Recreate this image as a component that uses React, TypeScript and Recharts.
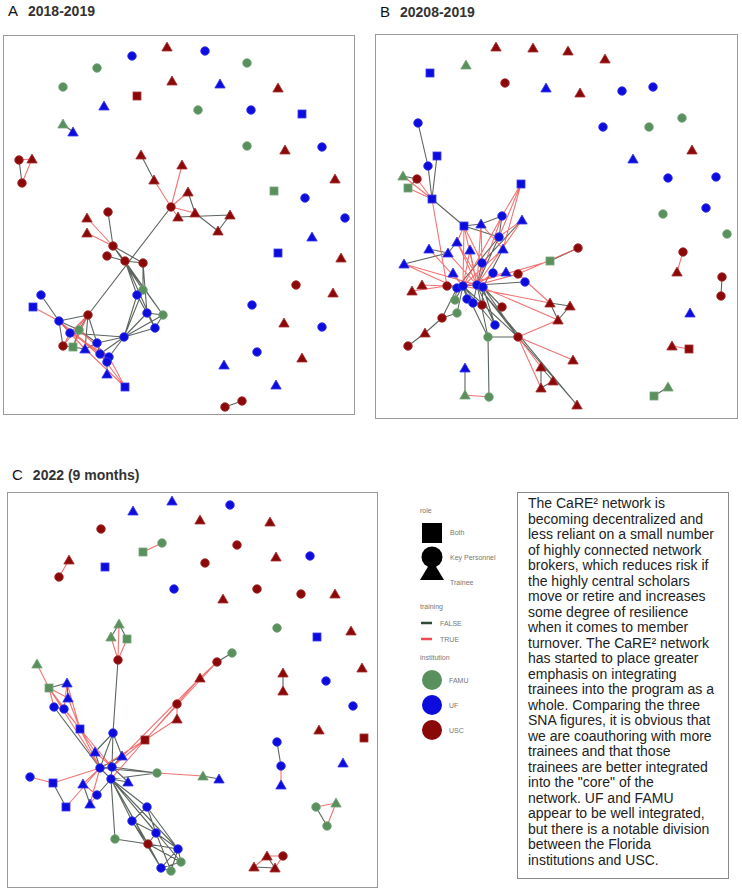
import React from 'react';
import { ComposedChart, Line, Scatter, XAxis, YAxis } from 'recharts';

// node: [layout x, layout y, role, institution]
// role: B = Both, K = Key Personnel, T = Trainee ; institution: F = FAMU, U = UF, S = USC
type Node = [number, number, string, string];
// edge: [from, to, training (1 = TRUE, 0 = FALSE)]
type Edge = [number, number, number];

const nodesA: Node[] = [
  [167, 47, 'T', 'S'], [132, 56, 'K', 'U'], [205, 51, 'K', 'U'], [97, 68, 'K', 'F'], [247, 63, 'K', 'F'],
  [63, 87, 'K', 'F'], [172, 81, 'T', 'S'], [220, 84, 'T', 'U'], [278, 88, 'T', 'S'], [137, 96, 'B', 'S'],
  [104, 106, 'T', 'U'], [198, 110, 'K', 'F'], [251, 110, 'K', 'U'], [302, 114, 'B', 'U'], [63, 124, 'T', 'F'],
  [73, 132, 'T', 'U'], [247, 146, 'K', 'F'], [285, 150, 'T', 'S'], [322, 147, 'K', 'U'], [19, 160, 'K', 'S'],
  [32, 159, 'T', 'S'], [22, 183, 'K', 'S'], [335, 179, 'T', 'S'], [274, 191, 'B', 'F'], [305, 198, 'K', 'U'],
  [345, 218, 'K', 'U'], [312, 237, 'T', 'U'], [278, 253, 'B', 'U'], [341, 258, 'T', 'S'], [296, 285, 'K', 'S'],
  [333, 293, 'T', 'S'], [252, 305, 'K', 'U'], [284, 323, 'T', 'S'], [322, 327, 'K', 'U'], [257, 352, 'K', 'U'],
  [302, 358, 'T', 'S'], [224, 365, 'T', 'U'], [276, 385, 'T', 'U'], [225, 407, 'K', 'S'], [242, 401, 'K', 'S'],
  [171, 207, 'K', 'S'], [141, 155, 'T', 'S'], [154, 180, 'T', 'S'], [182, 165, 'T', 'S'], [188, 192, 'T', 'S'],
  [178, 217, 'T', 'S'], [195, 213, 'T', 'S'], [230, 215, 'T', 'S'], [218, 231, 'T', 'S'],
  [108, 212, 'K', 'S'], [87, 218, 'T', 'S'], [87, 233, 'T', 'S'], [113, 246, 'K', 'S'], [107, 256, 'K', 'S'],
  [125, 261, 'K', 'S'], [143, 263, 'K', 'S'], [143, 290, 'K', 'F'], [137, 295, 'K', 'U'], [147, 313, 'K', 'U'],
  [163, 315, 'K', 'F'], [155, 328, 'K', 'U'], [124, 337, 'K', 'U'], [88, 315, 'K', 'S'], [41, 295, 'K', 'U'],
  [33, 307, 'B', 'U'], [59, 321, 'K', 'U'], [70, 333, 'K', 'U'], [79, 330, 'K', 'F'], [63, 346, 'K', 'S'],
  [73, 347, 'B', 'F'], [85, 349, 'T', 'U'], [97, 343, 'K', 'U'], [100, 354, 'K', 'U'], [109, 357, 'K', 'U'],
  [107, 362, 'K', 'U'], [107, 374, 'T', 'U'], [125, 387, 'B', 'U'],
];

const edgesA: Edge[] = [
  [14, 15, 0], [19, 21, 0], [19, 20, 1], [20, 21, 1], [38, 39, 0],
  [41, 42, 0], [42, 40, 1], [43, 40, 1], [44, 40, 1], [44, 46, 0], [40, 45, 1], [40, 46, 1], [45, 47, 0],
  [46, 48, 0], [47, 48, 0], [40, 62, 0],
  [49, 52, 0], [50, 52, 1], [51, 52, 1], [52, 54, 0], [53, 54, 0], [52, 55, 0], [54, 55, 0], [52, 56, 0],
  [54, 57, 0], [54, 60, 0], [55, 56, 0], [55, 58, 0], [52, 59, 0], [54, 59, 0], [56, 57, 0], [57, 58, 0],
  [58, 59, 0], [59, 60, 0], [57, 60, 0], [58, 60, 0], [61, 57, 0], [61, 58, 0], [61, 59, 0], [61, 56, 0],
  [61, 60, 0], [61, 71, 0], [61, 66, 0], [61, 73, 0], [61, 72, 0],
  [62, 65, 0], [62, 67, 0], [62, 68, 1], [62, 69, 1], [62, 71, 0], [62, 70, 0], [62, 66, 1],
  [63, 65, 0], [64, 65, 1], [65, 66, 0], [65, 67, 0], [65, 68, 0], [65, 70, 1], [65, 72, 1], [66, 67, 0],
  [66, 68, 1], [66, 70, 1], [67, 69, 0], [67, 71, 0], [68, 69, 0], [69, 70, 0], [70, 71, 0], [71, 72, 0],
  [72, 73, 0], [73, 74, 0], [72, 74, 0], [71, 74, 1], [74, 75, 0], [72, 76, 1], [73, 76, 1], [70, 76, 1],
  [66, 73, 1], [67, 73, 1], [65, 74, 1],
];

const nodesB: Node[] = [
  [496, 47, 'T', 'S'], [533, 48, 'T', 'S'], [568, 51, 'T', 'S'], [605, 59, 'T', 'S'], [466, 65, 'T', 'F'],
  [430, 73, 'B', 'U'], [505, 83, 'K', 'S'], [546, 88, 'T', 'U'], [580, 93, 'T', 'S'], [622, 91, 'K', 'U'],
  [653, 87, 'K', 'U'], [682, 118, 'K', 'F'], [649, 127, 'K', 'F'], [603, 127, 'K', 'U'], [692, 150, 'T', 'S'],
  [633, 159, 'T', 'U'], [668, 178, 'K', 'U'], [716, 177, 'K', 'U'], [663, 214, 'K', 'F'], [706, 208, 'K', 'U'],
  [727, 234, 'K', 'F'], [683, 252, 'K', 'S'], [677, 272, 'T', 'S'], [722, 277, 'K', 'S'], [721, 296, 'K', 'S'],
  [690, 313, 'T', 'U'], [672, 346, 'T', 'S'], [689, 349, 'B', 'S'], [654, 396, 'B', 'F'], [668, 387, 'T', 'F'],
  [418, 123, 'K', 'U'], [437, 156, 'B', 'U'], [428, 166, 'K', 'U'], [403, 176, 'T', 'F'], [417, 179, 'K', 'S'],
  [408, 188, 'B', 'F'], [432, 199, 'B', 'U'], [521, 184, 'B', 'U'], [464, 226, 'B', 'U'], [481, 224, 'T', 'U'],
  [502, 216, 'K', 'U'], [522, 220, 'T', 'U'], [457, 242, 'T', 'U'], [499, 237, 'K', 'U'], [429, 249, 'T', 'U'],
  [448, 253, 'T', 'U'], [470, 250, 'T', 'U'], [503, 249, 'T', 'U'], [404, 264, 'T', 'U'], [482, 263, 'K', 'U'],
  [453, 273, 'T', 'U'], [493, 273, 'K', 'U'], [506, 272, 'T', 'U'], [518, 274, 'K', 'S'], [525, 282, 'K', 'U'],
  [550, 261, 'B', 'F'], [578, 248, 'K', 'S'], [412, 291, 'T', 'S'], [422, 285, 'T', 'S'], [447, 286, 'K', 'S'],
  [457, 288, 'K', 'U'], [463, 286, 'K', 'U'], [477, 285, 'K', 'U'], [483, 287, 'K', 'U'], [455, 300, 'K', 'F'],
  [467, 299, 'K', 'U'], [473, 303, 'K', 'U'], [482, 305, 'K', 'S'], [502, 307, 'K', 'S'], [457, 313, 'K', 'F'],
  [442, 318, 'K', 'S'], [425, 333, 'T', 'S'], [408, 346, 'K', 'S'], [495, 325, 'K', 'U'], [488, 337, 'K', 'F'],
  [518, 337, 'K', 'S'], [550, 303, 'T', 'S'], [570, 306, 'T', 'S'], [558, 320, 'T', 'S'], [573, 360, 'T', 'S'],
  [541, 367, 'T', 'S'], [553, 381, 'T', 'S'], [541, 388, 'T', 'S'], [577, 405, 'T', 'S'], [465, 368, 'T', 'U'],
  [465, 395, 'T', 'F'], [489, 397, 'K', 'F'],
];

const edgesB: Edge[] = [
  [21, 22, 1], [23, 24, 0], [26, 27, 1], [28, 29, 0],
  [30, 32, 0], [31, 36, 0], [32, 36, 0], [33, 36, 1], [34, 36, 1], [35, 36, 1], [33, 34, 0], [35, 34, 0],
  [36, 38, 0], [36, 59, 1], [37, 43, 1], [37, 40, 1], [37, 47, 1],
  [38, 39, 0], [38, 49, 1], [38, 62, 1], [38, 61, 1], [38, 42, 1], [38, 43, 0], [39, 40, 0], [39, 62, 1],
  [39, 47, 1], [39, 49, 1], [40, 43, 0], [40, 61, 1], [41, 43, 1], [41, 62, 1], [41, 49, 0], [40, 62, 1],
  [42, 45, 0], [42, 62, 1], [42, 63, 1], [43, 60, 0], [43, 62, 0], [44, 45, 0], [44, 61, 1], [45, 62, 1],
  [46, 61, 1], [46, 62, 1], [47, 61, 1], [47, 63, 0], [48, 45, 0], [48, 60, 1], [48, 62, 1], [49, 62, 0],
  [50, 61, 1], [51, 62, 1], [52, 61, 1], [53, 62, 1], [53, 56, 1], [54, 62, 0], [55, 56, 0], [55, 61, 1],
  [57, 59, 1], [58, 59, 1], [59, 60, 0], [60, 61, 0], [61, 62, 0], [62, 63, 0], [59, 62, 1], [60, 64, 0],
  [61, 64, 0], [61, 65, 0], [62, 66, 0], [63, 67, 0], [63, 68, 0], [61, 69, 0], [60, 70, 0], [69, 70, 0],
  [70, 71, 0], [71, 72, 0], [61, 73, 0], [62, 73, 0], [63, 73, 0], [61, 74, 0], [62, 74, 0], [74, 75, 0],
  [61, 75, 0], [62, 75, 0], [63, 75, 0], [61, 76, 1], [53, 76, 1], [76, 77, 0], [77, 78, 0], [76, 78, 0],
  [62, 78, 1], [75, 78, 1], [75, 79, 1], [75, 80, 1], [75, 82, 1], [80, 81, 0], [80, 82, 0], [81, 82, 0],
  [75, 83, 0], [62, 83, 0], [74, 86, 0], [86, 85, 1], [84, 85, 0],
];

const nodesC: Node[] = [
  [172, 501, 'T', 'U'], [133, 511, 'T', 'U'], [230, 505, 'K', 'U'], [200, 520, 'T', 'S'], [270, 522, 'T', 'S'],
  [101, 529, 'K', 'S'], [143, 552, 'B', 'F'], [162, 543, 'K', 'F'], [237, 545, 'K', 'S'], [69, 560, 'T', 'S'],
  [59, 577, 'K', 'S'], [105, 567, 'B', 'U'], [205, 563, 'K', 'S'], [276, 557, 'T', 'S'], [310, 556, 'K', 'U'],
  [174, 589, 'K', 'U'], [223, 599, 'T', 'S'], [257, 589, 'K', 'S'], [301, 594, 'K', 'S'], [335, 594, 'T', 'S'],
  [277, 628, 'K', 'F'], [317, 637, 'B', 'U'], [351, 631, 'T', 'S'], [362, 668, 'T', 'S'], [283, 673, 'T', 'S'],
  [283, 691, 'T', 'S'], [326, 681, 'K', 'U'], [353, 706, 'K', 'U'], [319, 730, 'T', 'S'], [364, 738, 'B', 'S'],
  [277, 742, 'K', 'U'], [281, 766, 'K', 'U'], [281, 785, 'T', 'U'], [343, 763, 'T', 'U'], [316, 807, 'K', 'F'],
  [336, 803, 'T', 'F'], [327, 826, 'K', 'F'], [254, 867, 'T', 'S'], [267, 856, 'T', 'S'], [275, 868, 'T', 'S'],
  [283, 856, 'K', 'S'],
  [119, 624, 'T', 'F'], [111, 637, 'T', 'F'], [127, 639, 'B', 'F'], [118, 660, 'K', 'S'], [232, 653, 'K', 'F'],
  [217, 662, 'K', 'S'], [200, 678, 'T', 'S'], [177, 704, 'K', 'S'], [177, 719, 'T', 'S'], [145, 740, 'B', 'S'],
  [37, 664, 'T', 'F'], [49, 688, 'B', 'F'], [67, 683, 'T', 'U'], [68, 698, 'T', 'U'], [54, 707, 'K', 'U'],
  [64, 709, 'K', 'U'], [80, 729, 'B', 'U'], [113, 733, 'K', 'U'], [95, 752, 'T', 'U'], [122, 756, 'T', 'U'],
  [100, 768, 'K', 'U'], [112, 767, 'K', 'U'], [111, 779, 'K', 'U'], [128, 782, 'T', 'U'], [30, 777, 'K', 'U'],
  [53, 783, 'B', 'U'], [83, 784, 'T', 'U'], [97, 795, 'K', 'U'], [90, 804, 'T', 'U'], [66, 807, 'B', 'U'],
  [157, 773, 'K', 'F'], [203, 776, 'T', 'F'], [219, 779, 'T', 'U'], [147, 807, 'K', 'U'], [132, 821, 'K', 'U'],
  [156, 833, 'K', 'U'], [115, 839, 'K', 'F'], [148, 844, 'K', 'S'], [178, 849, 'K', 'U'], [181, 862, 'K', 'F'],
  [161, 868, 'K', 'U'], [171, 871, 'K', 'F'],
];

const edgesC: Edge[] = [
  [6, 7, 1], [9, 10, 1], [24, 25, 0], [30, 31, 0], [31, 32, 1], [34, 35, 1], [35, 36, 1], [34, 36, 0],
  [37, 38, 1], [37, 39, 0], [38, 39, 0], [38, 40, 1], [39, 40, 1],
  [41, 44, 1], [42, 44, 1], [43, 44, 1], [41, 42, 0], [41, 43, 0], [44, 58, 0],
  [45, 46, 0], [46, 47, 1], [47, 48, 1], [48, 49, 1], [46, 50, 1], [47, 50, 1], [48, 50, 1], [49, 50, 1],
  [50, 61, 1], [50, 62, 1], [50, 63, 1], [47, 62, 1],
  [51, 52, 1], [52, 53, 0], [52, 54, 1], [52, 55, 1], [52, 56, 1], [53, 54, 0], [53, 56, 1], [55, 56, 0],
  [52, 57, 1], [53, 57, 1], [54, 57, 1], [56, 57, 1], [57, 59, 1], [57, 61, 1], [57, 62, 1], [52, 61, 1],
  [55, 61, 0],
  [58, 62, 0], [58, 61, 0], [58, 59, 0], [58, 60, 0], [59, 61, 0], [60, 62, 0], [61, 62, 0], [61, 63, 0],
  [62, 63, 0], [62, 64, 0], [63, 64, 0], [59, 62, 1], [60, 61, 0],
  [65, 66, 1], [66, 61, 1], [66, 70, 0], [70, 61, 1], [67, 61, 1], [67, 68, 1], [69, 68, 1], [69, 61, 1],
  [68, 63, 0], [67, 69, 0],
  [63, 71, 0], [61, 71, 0], [62, 71, 0], [71, 72, 1], [72, 73, 0],
  [63, 74, 0], [63, 75, 0], [63, 76, 0], [63, 78, 0], [63, 79, 0], [63, 81, 0], [63, 80, 0], [63, 77, 0],
  [77, 78, 0], [74, 75, 0], [74, 76, 0], [75, 76, 0], [76, 78, 0], [75, 78, 0], [76, 79, 0], [78, 79, 0],
  [78, 80, 0], [78, 81, 0], [79, 80, 0], [79, 81, 0], [80, 81, 0], [81, 82, 0], [79, 82, 0], [76, 82, 0],
  [74, 79, 0], [75, 81, 0],
];

const noteLines = [
  'The CaRE² network is',
  'becoming decentralized and',
  'less reliant on a small number',
  'of highly connected network',
  'brokers, which reduces risk if',
  'the highly central scholars',
  'move or retire and increases',
  'some degree of resilience',
  'when it comes to member',
  'turnover. The CaRE² network',
  'has started to place greater',
  'emphasis on integrating',
  'trainees into the program as a',
  'whole. Comparing the three',
  'SNA figures, it is obvious that',
  'we are coauthoring with more',
  'trainees and that those',
  'trainees are better integrated',
  'into the "core" of the',
  'network. UF and FAMU',
  'appear to be well integrated,',
  'but there is a notable division',
  'between the Florida',
  'institutions and USC.',
];

const INST_COLOR: Record<string, string> = { F: '#5a8f5e', U: '#0c0cdc', S: '#8a0808' };
const INST_EDGE: Record<string, string> = { F: '#76a67a', U: '#3a3af0', S: '#a83232' };
const EDGE_FALSE = '#3f4a42';
const EDGE_TRUE = '#f05a5a';

const panels = [
  { letter: 'A', title: '2018-2019', box: [3, 35, 355, 415], titleY: 2, nodes: nodesA, edges: edgesA },
  { letter: 'B', title: '20208-2019', box: [375, 34, 738, 419], titleY: 3, nodes: nodesB, edges: edgesB },
  { letter: 'C', title: '2022 (9 months)', box: [7, 492, 378, 888], titleY: 466, nodes: nodesC, edges: edgesC },
];

const renderNode = (props: any) => {
  const { cx, cy, payload } = props;
  if (cx == null || cy == null) return <g />;
  const fill = INST_COLOR[payload.inst];
  const stroke = INST_EDGE[payload.inst];
  if (payload.role === 'B') {
    return <rect x={cx - 4} y={cy - 4} width={8} height={8} fill={fill} stroke={stroke} strokeWidth={0.8} />;
  }
  if (payload.role === 'T') {
    return (
      <polygon
        points={`${cx},${cy - 5} ${cx + 5.2},${cy + 4} ${cx - 5.2},${cy + 4}`}
        fill={fill}
        stroke={stroke}
        strokeWidth={0.8}
      />
    );
  }
  return <circle cx={cx} cy={cy} r={4.3} fill={fill} stroke={stroke} strokeWidth={0.8} />;
};

function edgeSeries(nodes: Node[], edges: Edge[], training: number) {
  const out: { x: number | null; y: number | null }[] = [];
  edges
    .filter(e => e[2] === training)
    .forEach(([a, b]) => {
      out.push({ x: nodes[a][0], y: nodes[a][1] });
      out.push({ x: nodes[b][0], y: nodes[b][1] });
      out.push({ x: null, y: null });
    });
  return out;
}

function NetworkPanel({ panel }: { panel: typeof panels[number] }) {
  const [x0, y0, x1, y1] = panel.box;
  const w = x1 - x0;
  const h = y1 - y0;
  const nodeData = panel.nodes.map(([x, y, role, inst]) => ({ x, y, role, inst }));
  const falseEdges = edgeSeries(panel.nodes, panel.edges, 0);
  const trueEdges = edgeSeries(panel.nodes, panel.edges, 1);

  return (
    <>
      <div style={{ position: 'absolute', left: x0 + 5, top: panel.titleY, fontFamily: 'Liberation Sans, Arial, sans-serif', color: '#111', whiteSpace: 'nowrap' }}>
        <span style={{ fontSize: 15 }}>{panel.letter}</span>
        <span style={{ fontSize: 14, fontWeight: 'bold', marginLeft: 10, color: '#333' }}>{panel.title}</span>
      </div>
      <div style={{ position: 'absolute', left: x0, top: y0, width: w, height: h }}>
        <ComposedChart width={w} height={h} margin={{ top: 0, right: 0, bottom: 0, left: 0 }}>
          <XAxis type="number" dataKey="x" domain={[x0, x1]} allowDataOverflow hide />
          <YAxis type="number" dataKey="y" domain={[y0, y1]} allowDataOverflow reversed hide />
          <Line data={falseEdges} dataKey="y" stroke={EDGE_FALSE} strokeWidth={1.1} strokeOpacity={0.85} dot={false} activeDot={false} connectNulls={false} isAnimationActive={false} />
          <Line data={trueEdges} dataKey="y" stroke={EDGE_TRUE} strokeWidth={1.1} strokeOpacity={0.85} dot={false} activeDot={false} connectNulls={false} isAnimationActive={false} />
          <Scatter data={nodeData} shape={renderNode} isAnimationActive={false} />
        </ComposedChart>
      </div>
      <div style={{ position: 'absolute', left: x0, top: y0, width: w, height: h, boxSizing: 'border-box', border: '1.5px solid #9a9a9a', pointerEvents: 'none' }} />
    </>
  );
}

function LegendBlock() {
  const label = { fontSize: 7, fill: '#777', fontFamily: 'Liberation Sans, Arial, sans-serif' } as const;
  return (
    <svg width={110} height={260} style={{ position: 'absolute', left: 400, top: 490 }}>
      <text x={20} y={23} {...label}>role</text>
      <rect x={22} y={33} width={20} height={20} fill="#000" />
      <text x={50} y={45} {...label}>Both</text>
      <circle cx={32} cy={67} r={10.5} fill="#000" />
      <text x={50} y={70} {...label}>Key Personnel</text>
      <polygon points="32,70 44,90 20,90" fill="#000" />
      <text x={50} y={95} {...label}>Trainee</text>
      <text x={20} y={119} {...label}>training</text>
      <line x1={21} x2={32} y1={133} y2={133} stroke="#2f4a36" strokeWidth={2.5} />
      <text x={40} y={136} {...label}>FALSE</text>
      <line x1={21} x2={32} y1={149} y2={149} stroke="#f04a55" strokeWidth={2.5} />
      <text x={40} y={152} {...label}>TRUE</text>
      <text x={20} y={170} {...label}>institution</text>
      <circle cx={32} cy={190} r={10} fill={INST_COLOR.F} />
      <text x={49} y={193} {...label}>FAMU</text>
      <circle cx={32} cy={215} r={10} fill={INST_COLOR.U} />
      <text x={49} y={218} {...label}>UF</text>
      <circle cx={32} cy={240} r={10} fill={INST_COLOR.S} />
      <text x={49} y={243} {...label}>USC</text>
    </svg>
  );
}

export default function App() {
  return (
    <div style={{ position: 'absolute', left: 0, top: 0, width: 742, height: 892, background: '#fff', overflow: 'hidden' }}>
      {panels.map(p => (
        <NetworkPanel key={p.letter} panel={p} />
      ))}
      <LegendBlock />
      <div
        style={{
          position: 'absolute',
          left: 517,
          top: 492,
          width: 212,
          height: 387,
          boxSizing: 'border-box',
          border: '1.5px solid #8a8a8a',
          padding: '3px 0 0 10px',
          fontFamily: 'Liberation Sans, Arial, sans-serif',
          fontSize: 14,
          lineHeight: '15.5px',
          color: '#222',
          whiteSpace: 'pre',
        }}
      >
        {noteLines.map((l, i) => (
          <div key={i}>{l}</div>
        ))}
      </div>
    </div>
  );
}
